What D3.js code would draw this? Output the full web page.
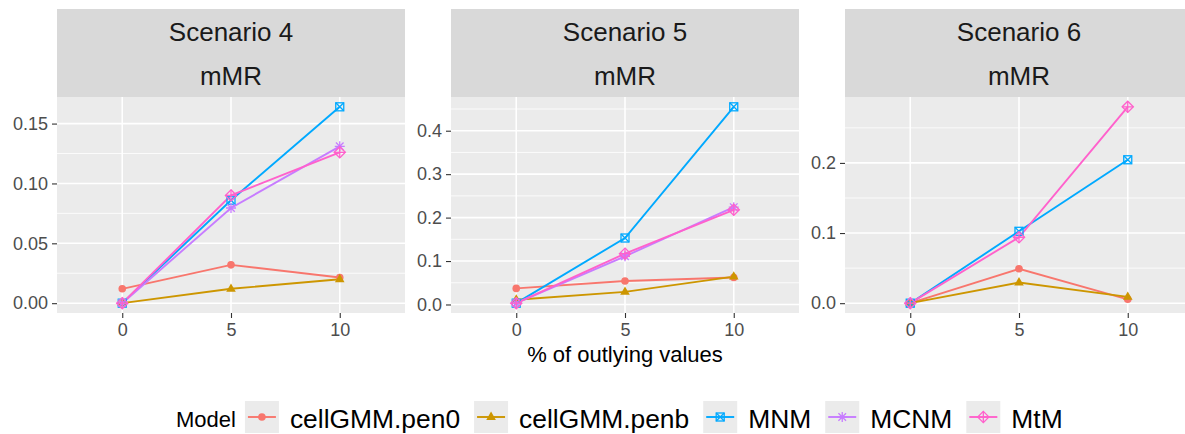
<!DOCTYPE html>
<html><head><meta charset="utf-8">
<script src="https://cdn.jsdelivr.net/npm/d3@7"></script>
<style>body{margin:0;background:#fff;overflow:hidden} svg{display:block;font-family:"Liberation Sans",Arial,Helvetica,sans-serif}</style>
</head><body><svg id="c" width="1185" height="434"></svg>
<script>
// ---------------- data ----------------
const xLevels = ["0", "5", "10"];
const models = ["cellGMM.pen0", "cellGMM.penb", "MNM", "MCNM", "MtM"];
const scenarios = ["Scenario 4", "Scenario 5", "Scenario 6"];
const metricLabel = "mMR";
const xTitle = "% of outlying values";
const legendTitle = "Model";

// Scenario 4 (values at 0, 5, 10 % outlying)
const s4_pen0 = [0.012, 0.032, 0.0215];
const s4_penb = [0.000, 0.012, 0.020];
const s4_MNM  = [0.000, 0.086, 0.164];
const s4_MCNM = [0.000, 0.0795, 0.131];
const s4_MtM  = [0.000, 0.090, 0.126];
// Scenario 5
const s5_pen0 = [0.037, 0.054, 0.062];
const s5_penb = [0.011, 0.029, 0.064];
const s5_MNM  = [0.003, 0.153, 0.455];
const s5_MCNM = [0.003, 0.111, 0.224];
const s5_MtM  = [0.003, 0.117, 0.218];
// Scenario 6 (MCNM not shown)
const s6_pen0 = [0.000, 0.049, 0.0055];
const s6_penb = [0.000, 0.0295, 0.009];
const s6_MNM  = [0.000, 0.1025, 0.2045];
const s6_MCNM = [null, null, null];
const s6_MtM  = [0.000, 0.094, 0.280];

const yTicks4 = [0, 0.05, 0.10, 0.15];
const yTickLabels4 = ["0.00", "0.05", "0.10", "0.15"];
const yMinor4 = [0.025, 0.075, 0.125];
const yTicks5 = [0, 0.1, 0.2, 0.3, 0.4];
const yTickLabels5 = ["0.0", "0.1", "0.2", "0.3", "0.4"];
const yMinor5 = [0.05, 0.15, 0.25, 0.35, 0.45];
const yTicks6 = [0, 0.1, 0.2];
const yTickLabels6 = ["0.0", "0.1", "0.2"];
const yMinor6 = [0.05, 0.15, 0.25];

const colors = ["#F8766D", "#CD9600", "#00A9FF", "#C77CFF", "#FF61CC"];
const shapes = ["circle", "triangle", "squarecross", "asterisk", "diamondplus"];

// ---------------- build ----------------
const panels = [
  {name: scenarios[0], series: [s4_pen0, s4_penb, s4_MNM, s4_MCNM, s4_MtM], ticks: yTicks4, labels: yTickLabels4, minor: yMinor4},
  {name: scenarios[1], series: [s5_pen0, s5_penb, s5_MNM, s5_MCNM, s5_MtM], ticks: yTicks5, labels: yTickLabels5, minor: yMinor5},
  {name: scenarios[2], series: [s6_pen0, s6_penb, s6_MNM, s6_MCNM, s6_MtM], ticks: yTicks6, labels: yTickLabels6, minor: yMinor6}
];

const svg = d3.select("#c");
const panelLefts = [57, 451, 845];
const panelW = 348;
const stripTop = 9, stripRowH = 44, panelTop = 97, panelBottom = 313;

function drawShape(g, shape, color) {
  const sw = 1.3;
  if (shape === "circle") {
    g.append("circle").attr("r", 3.8).attr("fill", color);
  } else if (shape === "triangle") {
    g.append("path").attr("d", "M0,-5.4L4.8,2.9L-4.8,2.9Z").attr("fill", color);
  } else if (shape === "squarecross") {
    const s = 4;
    g.append("rect").attr("x", -s).attr("y", -s).attr("width", 2*s).attr("height", 2*s)
      .attr("fill", "none").attr("stroke", color).attr("stroke-width", sw);
    g.append("path").attr("d", `M${-s},${-s}L${s},${s}M${-s},${s}L${s},${-s}`)
      .attr("stroke", color).attr("stroke-width", sw).attr("fill", "none");
  } else if (shape === "asterisk") {
    const a = 5, b = 3.8;
    g.append("path").attr("d", `M0,${-a}L0,${a}M${-a},0L${a},0M${-b},${-b}L${b},${b}M${-b},${b}L${b},${-b}`)
      .attr("stroke", color).attr("stroke-width", sw).attr("fill", "none");
  } else if (shape === "diamondplus") {
    const d = 5.6;
    g.append("path").attr("d", `M0,${-d}L${d},0L0,${d}L${-d},0Z`)
      .attr("stroke", color).attr("stroke-width", sw).attr("fill", "none");
    g.append("path").attr("d", `M0,${-d}L0,${d}M${-d},0L${d},0`)
      .attr("stroke", color).attr("stroke-width", sw).attr("fill", "none");
  }
}

panels.forEach((p, pi) => {
  const left = panelLefts[pi];
  const x = d3.scalePoint().domain(xLevels).range([left, left + panelW]).padding(0.6);
  const all = p.series.flat().filter(v => v != null);
  const mn = d3.min(all), mx = d3.max(all), r = mx - mn;
  const y = d3.scaleLinear().domain([mn - 0.05 * r, mx + 0.05 * r]).range([panelBottom, panelTop]);

  // strip
  svg.append("rect").attr("x", left).attr("y", stripTop).attr("width", panelW).attr("height", panelTop - stripTop).attr("fill", "#D9D9D9");
  svg.append("text").attr("x", left + panelW / 2).attr("y", stripTop + 31.5).attr("text-anchor", "middle")
    .attr("font-size", 26).attr("fill", "#1A1A1A").text(p.name);
  svg.append("text").attr("x", left + panelW / 2).attr("y", stripTop + stripRowH + 31.5).attr("text-anchor", "middle")
    .attr("font-size", 26).attr("fill", "#1A1A1A").text(metricLabel);

  // panel bg
  svg.append("rect").attr("x", left).attr("y", panelTop).attr("width", panelW).attr("height", panelBottom - panelTop).attr("fill", "#EBEBEB");
  const grid = svg.append("g");
  p.minor.filter(v => y(v) >= panelTop && y(v) <= panelBottom).forEach(v => {
    grid.append("line").attr("x1", left).attr("x2", left + panelW).attr("y1", y(v)).attr("y2", y(v))
      .attr("stroke", "#fff").attr("stroke-width", 0.8);
  });
  p.ticks.forEach(v => {
    grid.append("line").attr("x1", left).attr("x2", left + panelW).attr("y1", y(v)).attr("y2", y(v))
      .attr("stroke", "#fff").attr("stroke-width", 1.6);
  });
  xLevels.forEach(v => {
    grid.append("line").attr("x1", x(v)).attr("x2", x(v)).attr("y1", panelTop).attr("y2", panelBottom)
      .attr("stroke", "#fff").attr("stroke-width", 1.6);
  });

  // y axis
  const ya = svg.append("g").attr("transform", `translate(${left},0)`)
    .call(d3.axisLeft(y).tickValues(p.ticks).tickFormat((d, i) => p.labels[i]).tickSize(5).tickPadding(4));
  ya.select(".domain").remove();
  ya.selectAll("line").attr("stroke", "#333333").attr("stroke-width", 1.1);
  ya.selectAll("text").attr("font-size", 18).attr("fill", "#4D4D4D").attr("font-family", "Liberation Sans, Arial, sans-serif");

  // x axis
  const xa = svg.append("g").attr("transform", `translate(0,${panelBottom})`)
    .call(d3.axisBottom(x).tickSize(5).tickPadding(5));
  xa.select(".domain").remove();
  xa.selectAll("line").attr("stroke", "#333333").attr("stroke-width", 1.1);
  xa.selectAll("text").attr("font-size", 18).attr("fill", "#4D4D4D").attr("font-family", "Liberation Sans, Arial, sans-serif");

  // lines
  const clipG = svg.append("g");
  const line = d3.line().defined(d => d.v != null).x(d => x(d.x)).y(d => y(d.v));
  p.series.forEach((vals, mi) => {
    const pts = vals.map((v, i) => ({x: xLevels[i], v}));
    clipG.append("path").attr("d", line(pts)).attr("fill", "none")
      .attr("stroke", colors[mi]).attr("stroke-width", 1.9);
  });
  p.series.forEach((vals, mi) => {
    vals.forEach((v, i) => {
      if (v == null) return;
      const g = clipG.append("g").attr("transform", `translate(${x(xLevels[i])},${y(v)})`);
      drawShape(g, shapes[mi], colors[mi]);
    });
  });
});

// x axis title
svg.append("text").attr("x", (panelLefts[1] + panelW / 2)).attr("y", 362).attr("text-anchor", "middle")
  .attr("font-size", 22).attr("fill", "#000").text(xTitle);

// legend
const leg = svg.append("g");
const legBase = 428;
const t = leg.append("text").attr("x", 176).attr("y", 427).attr("font-size", 22).attr("fill", "#000").text(legendTitle);
let cx = 176 + t.node().getComputedTextLength() + 9;
const keyW = 34, keyH = 32, keyTop = 401;
models.forEach((m, mi) => {
  leg.append("rect").attr("x", cx).attr("y", keyTop).attr("width", keyW).attr("height", keyH).attr("fill", "#EBEBEB");
  leg.append("line").attr("x1", cx + 3).attr("x2", cx + keyW - 3).attr("y1", keyTop + keyH / 2).attr("y2", keyTop + keyH / 2)
    .attr("stroke", colors[mi]).attr("stroke-width", 1.9);
  const g = leg.append("g").attr("transform", `translate(${cx + keyW / 2},${keyTop + keyH / 2})`);
  drawShape(g, shapes[mi], colors[mi]);
  const lt = leg.append("text").attr("x", cx + keyW + 11).attr("y", legBase).attr("font-size", 26.4).attr("fill", "#000").text(m);
  cx = cx + keyW + 11 + lt.node().getComputedTextLength() + 14;
});
</script></body></html>
